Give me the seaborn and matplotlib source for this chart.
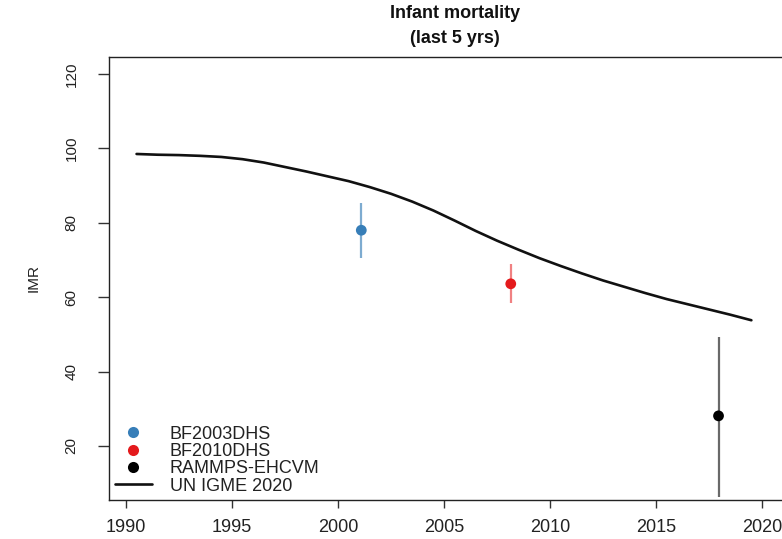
import matplotlib
matplotlib.use("Agg")
import matplotlib.pyplot as plt
from matplotlib.lines import Line2D
import seaborn as sns
import pandas as pd

# UN IGME 2020 infant mortality estimates (mid-year)
igme_years = [1990.5, 1991.5, 1992.5, 1993.5, 1994.5, 1995.5, 1996.5, 1997.5,
              1998.5, 1999.5, 2000.5, 2001.5, 2002.5, 2003.5, 2004.5, 2005.5,
              2006.5, 2007.5, 2008.5, 2009.5, 2010.5, 2011.5, 2012.5, 2013.5,
              2014.5, 2015.5, 2016.5, 2017.5, 2018.5, 2019.5]
igme_imr = [98.5, 98.3, 98.2, 98.0, 97.7, 97.1, 96.2, 95.0,
            93.8, 92.5, 91.2, 89.6, 87.8, 85.7, 83.3, 80.6,
            77.8, 75.2, 72.8, 70.5, 68.4, 66.4, 64.5, 62.8,
            61.1, 59.5, 58.1, 56.7, 55.3, 53.8]

# Survey estimates for the last 5 years with confidence bounds
surveys = ["BF2003DHS", "BF2010DHS", "RAMMPS-EHCVM"]
survey_years = [2001.1, 2008.15, 2017.95]
survey_imr = [78.0, 63.6, 28.1]
survey_lower = [70.5, 58.4, 6.2]
survey_upper = [85.3, 68.8, 49.3]

point_colors = ["#377EB8", "#E41A1C", "#000000"]
bar_colors = [(0.216, 0.494, 0.722, 0.65), (0.894, 0.102, 0.110, 0.55), (0.35, 0.35, 0.35, 0.9)]

sns.set_theme(style="ticks")
plt.rcParams["font.family"] = ["Liberation Sans", "DejaVu Sans"]

fig = plt.figure(figsize=(7.82, 5.39), dpi=100)
W, H = 782, 539
ax = fig.add_axes([109 / W, 1 - 500 / H, 692 / W, 443 / H])

igme = pd.DataFrame({"year": igme_years, "imr": igme_imr})
pts = pd.DataFrame({"year": survey_years, "imr": survey_imr, "source": surveys})

sns.lineplot(data=igme, x="year", y="imr", color="#111111", linewidth=1.9, ax=ax,
             legend=False)
ax.vlines(survey_years, survey_lower, survey_upper, colors=bar_colors, linewidth=1.6,
          zorder=2)
sns.scatterplot(data=pts, x="year", y="imr", hue="source", palette=point_colors,
                s=60, edgecolor="none", legend=False, ax=ax, zorder=3)

ax.set_xlim(1989.2, 2021.84)
ax.set_ylim(5.48, 124.57)
ax.set_xticks([1990, 1995, 2000, 2005, 2010, 2015, 2020])
ax.set_yticks([20, 40, 60, 80, 100, 120])
ax.set_xlabel("")
ax.set_ylabel("IMR", fontsize=11, color="#222222", labelpad=17)

ax.tick_params(axis="x", direction="out", length=6, width=1, pad=8,
               labelsize=13, colors="#333333", labelcolor="#222222")
ax.tick_params(axis="y", direction="out", length=8, width=1, pad=14,
               labelsize=11, colors="#333333", labelcolor="#222222")
for lab in ax.get_yticklabels():
    lab.set_rotation(90)
    lab.set_va("center")

for side in ["left", "bottom", "top", "right"]:
    ax.spines[side].set_visible(True)
    ax.spines[side].set_color("#222222")
    ax.spines[side].set_linewidth(1.0)

ax.set_title("Infant mortality\n(last 5 yrs)", fontsize=13, fontweight="bold",
             color="#111111", linespacing=1.6, pad=10)

handles = [Line2D([], [], linestyle="none", marker="o", markersize=8,
                  markerfacecolor=c, markeredgecolor="none") for c in point_colors]
handles.append(Line2D([], [], color="#111111", linewidth=1.9))
labels = surveys + ["UN IGME 2020"]
ax.legend(handles, labels, loc="lower left", bbox_to_anchor=(0.008, 0.012),
          frameon=False, fontsize=13, handlelength=2.1, handletextpad=0.95,
          labelspacing=0.02, borderpad=0, borderaxespad=0, labelcolor="#222222")

fig.savefig("out.png", dpi=100)
